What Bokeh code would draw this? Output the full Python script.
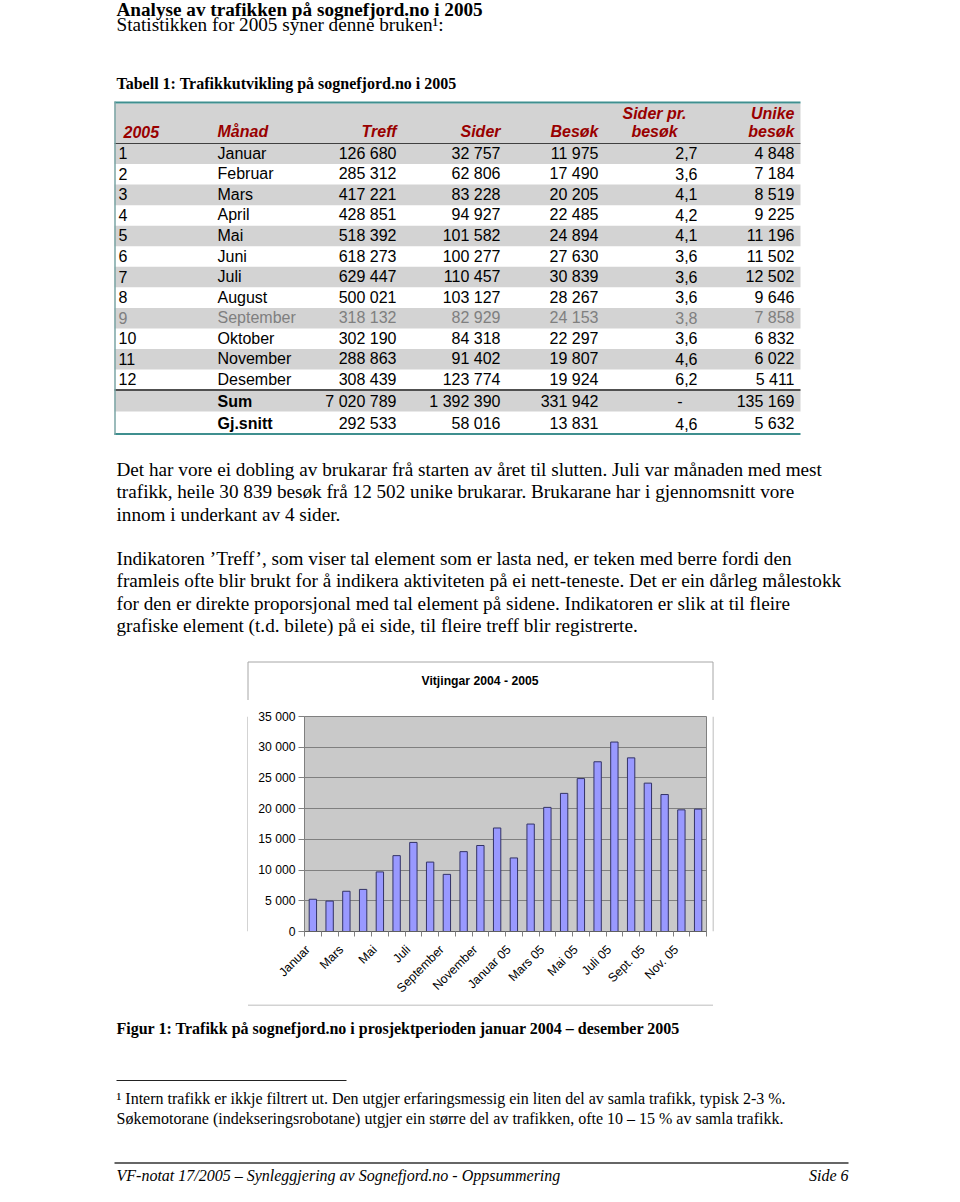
import math
from bokeh.plotting import figure
from bokeh.models import ColumnDataSource, Range1d, FixedTicker
from bokeh.layouts import column, row
from bokeh.core.properties import value
from bokeh.embed import file_html
from bokeh.resources import INLINE

# ---------------- data ----------------
title_text = "Analyse av trafikken på sognefjord.no i 2005"
intro_text = "Statistikken for 2005 syner denne bruken¹:"
table_caption = "Tabell 1: Trafikkutvikling på sognefjord.no i 2005"

header_year = "2005"
header_month = "Månad"
header_treff = "Treff"
header_sider = "Sider"
header_besok = "Besøk"
header_spb = ["Sider pr.", "besøk"]
header_unike = ["Unike", "besøk"]

months = ["Januar", "Februar", "Mars", "April", "Mai", "Juni", "Juli", "August",
          "September", "Oktober", "November", "Desember"]
treff = [126680, 285312, 417221, 428851, 518392, 618273, 629447, 500021, 318132, 302190, 288863, 308439]
sider = [32757, 62806, 83228, 94927, 101582, 100277, 110457, 103127, 82929, 84318, 91402, 123774]
besok = [11975, 17490, 20205, 22485, 24894, 27630, 30839, 28267, 24153, 22297, 19807, 19924]
sider_pr_besok = [2.7, 3.6, 4.1, 4.2, 4.1, 3.6, 3.6, 3.6, 3.8, 3.6, 4.6, 6.2]
unike = [4848, 7184, 8519, 9225, 11196, 11502, 12502, 9646, 7858, 6832, 6022, 5411]
sum_row = ["Sum", "7 020 789", "1 392 390", "331 942", "-", "135 169"]
avg_row = ["Gj.snitt", "292 533", "58 016", "13 831", "4,6", "5 632"]

para1 = [
    "Det har vore ei dobling av brukarar frå starten av året til slutten. Juli var månaden med mest",
    "trafikk, heile 30 839 besøk frå 12 502 unike brukarar. Brukarane har i gjennomsnitt vore",
    "innom i underkant av 4 sider.",
]
para2 = [
    "Indikatoren ’Treff’, som viser tal element som er lasta ned, er teken med berre fordi den",
    "framleis ofte blir brukt for å indikera aktiviteten på ei nett-teneste. Det er ein dårleg målestokk",
    "for den er direkte proporsjonal med tal element på sidene. Indikatoren er slik at til fleire",
    "grafiske element (t.d. bilete) på ei side, til fleire treff blir registrerte.",
]
fig_caption = "Figur 1: Trafikk på sognefjord.no i prosjektperioden januar 2004 – desember 2005"
footnote = [
    "¹ Intern trafikk er ikkje filtrert ut. Den utgjer erfaringsmessig ein liten del av samla trafikk, typisk 2-3 %.",
    "Søkemotorane (indekseringsrobotane) utgjer ein større del av trafikken, ofte 10 – 15 % av samla trafikk.",
]
footer_left = "VF-notat 17/2005 – Synleggjering av Sognefjord.no - Oppsummering"
footer_right = "Side 6"

chart_title = "Vitjingar 2004 - 2005"
chart_months = ["Januar", "Februar", "Mars", "April", "Mai", "Juni", "Juli", "August",
                "September", "Oktober", "November", "Desember",
                "Januar 05", "Februar 05", "Mars 05", "April 05", "Mai 05", "Juni 05",
                "Juli 05", "August 05", "Sept. 05", "Okt. 05", "Nov. 05", "Des. 05"]
visits_2004 = [5250, 4950, 6550, 6850, 9700, 12350, 14500, 11300, 9300, 13000, 14000, 16850]
visits_2005 = besok
y_ticks = [0, 5000, 10000, 15000, 20000, 25000, 30000, 35000]
y_tick_labels = ["0", "5 000", "10 000", "15 000", "20 000", "25 000", "30 000", "35 000"]

# ---------------- helpers ----------------
SERIF = "Liberation Serif"
SANS = "Liberation Sans"
BOX = "#a6a6a6"
TEAL = "#3f8f8f"
GRAY_ROW = "#d3d3d3"
HDR_RED = "#990000"


def fmt(n):
    return f"{n:,}".replace(",", " ")


def fmtd(x):
    return f"{x:.1f}".replace(".", ",")


def page_fig(width, height, x0, y0):
    p = figure(width=width, height=height,
               x_range=Range1d(x0, x0 + width), y_range=Range1d(y0 + height, y0),
               x_axis_location=None, y_axis_location=None,
               toolbar_location=None, output_backend="svg", min_border=0,
               outline_line_color=None, background_fill_color="white",
               border_fill_color="white")
    p.grid.visible = False
    return p


def txt(p, xs, ys, texts, font, size, style="normal", align="left", color="black"):
    src = ColumnDataSource(dict(x=xs, y=ys, t=texts))
    p.text(x="x", y="y", text="t", source=src, text_font=value(font),
           text_font_size=value(size), text_font_style=style, text_align=align,
           text_baseline="alphabetic", text_color=color)


def hline(p, y, x0, x1, color, w):
    p.segment(x0=[x0], y0=[y], x1=[x1], y1=[y], line_color=color, line_width=w)


def vline(p, x, y0, y1, color, w):
    p.segment(x0=[x], y0=[y0], x1=[x], y1=[y1], line_color=color, line_width=w)


# ---------------- top part (page y 0..700) ----------------
top = page_fig(944, 700, 0, 0)

txt(top, [116], [8.8], [title_text], SERIF, "19.2px", "bold")
txt(top, [116], [23.8], [intro_text], SERIF, "19.2px")
txt(top, [116], [82.8], [table_caption], SERIF, "16px", "bold")

# table geometry
TL, TR = 114, 800
ROW0, RH = 143.0, 20.55
SUM_T, SUM_B, AVG_B = 390.0, 411.0, 433.0
row_tops = [ROW0 + i * RH for i in range(len(months))]

gray_l, gray_r, gray_t, gray_b = [TL], [TR], [103], [ROW0]
for i, t in enumerate(row_tops):
    if i % 2 == 0:
        gray_l.append(TL); gray_r.append(TR); gray_t.append(t); gray_b.append(t + RH)
gray_l.append(TL); gray_r.append(TR); gray_t.append(SUM_T); gray_b.append(SUM_B)
top.quad(left=gray_l, right=gray_r, top=gray_t, bottom=gray_b, fill_color=GRAY_ROW, line_color=None)

hline(top, 102, TL, TR, TEAL, 2.2)
hline(top, ROW0, TL, TR, "#404040", 1)
hline(top, 389.6, TL, TR, "#505050", 2)
hline(top, 433.5, TL, TR, TEAL, 2.2)
vline(top, 114.5, 101, 434.5, "#7aa5a5", 1.5)

# header
H1, H2 = 113.0, 131.0
txt(top, [123, 217], [H2, H2], [header_year, header_month], SANS, "16px", "bold italic", "left", HDR_RED)
txt(top, [396, 500, 598, 794, 794], [H2, H2, H2, H1, H2],
    [header_treff, header_sider, header_besok, header_unike[0], header_unike[1]],
    SANS, "16px", "bold italic", "right", HDR_RED)
txt(top, [654, 654], [H1, H2], header_spb, SANS, "16px", "bold italic", "center", HDR_RED)

# body rows
col_right = [396, 500, 598, 697, 794]
for color_group, idxs in (("black", [i for i in range(12) if i != 8]), ("#7f7f7f", [8])):
    bys = [row_tops[i] + RH / 2 - 0.5 for i in idxs]
    txt(top, [118] * len(idxs), bys, [str(i + 1) for i in idxs], SANS, "16px", "normal", "left", color_group)
    txt(top, [217] * len(idxs), bys, [months[i] for i in idxs], SANS, "16px", "normal", "left", color_group)
    cols = [[fmt(treff[i]) for i in idxs], [fmt(sider[i]) for i in idxs], [fmt(besok[i]) for i in idxs],
            [fmtd(sider_pr_besok[i]) for i in idxs], [fmt(unike[i]) for i in idxs]]
    for xr, vals in zip(col_right, cols):
        txt(top, [xr] * len(idxs), bys, vals, SANS, "16px", "normal", "right", color_group)

sum_y, avg_y = 400.7, 423.0
txt(top, [217, 217], [sum_y, avg_y], [sum_row[0], avg_row[0]], SANS, "16px", "bold")
for k, xr in enumerate(col_right):
    if sum_row[k + 1] == "-":
        txt(top, [xr - 15], [sum_y], [sum_row[k + 1]], SANS, "16px", "normal", "right")
        txt(top, [xr], [avg_y], [avg_row[k + 1]], SANS, "16px", "normal", "right")
    else:
        txt(top, [xr, xr], [sum_y, avg_y], [sum_row[k + 1], avg_row[k + 1]], SANS, "16px", "normal", "right")

# paragraphs
LP = 22.3
p1_y = [469.0 + i * LP for i in range(len(para1))]
p2_y = [558.0 + i * LP for i in range(len(para2))]
txt(top, [116] * len(para1), p1_y, para1, SERIF, "19.2px")
txt(top, [116] * len(para2), p2_y, para2, SERIF, "19.2px")

# upper part of chart box + chart title
hline(top, 661.5, 247.5, 712.5, BOX, 1)
vline(top, 247.5, 661.5, 700, BOX, 1)
vline(top, 712.5, 661.5, 700, BOX, 1)
txt(top, [479.5], [680.0], [chart_title], SANS, "12.2px", "bold", "center")

# ---------------- chart row (page y 700..1004) ----------------
left_strip = page_fig(248, 304, 0, 700)
vline(left_strip, 247.5, 700, 1004, BOX, 1)
right_strip = page_fig(232, 304, 712, 700)
vline(right_strip, 712.5, 700, 1004, BOX, 1)

xs = list(range(1, len(chart_months) + 1))
csrc = ColumnDataSource(dict(x=xs, v=visits_2004 + visits_2005, m=chart_months))

cp = figure(width=464, height=304, x_range=Range1d(0.5, 24.5), y_range=Range1d(0, 35000),
            toolbar_location=None, output_backend="svg",
            min_border_left=56, min_border_right=6, min_border_top=16, min_border_bottom=73,
            background_fill_color="#c9c9c9", border_fill_color="white",
            outline_line_color="#808080")
cp.vbar(x="x", top="v", width=0.44, source=csrc, fill_color="#9999ff",
        line_color="#333366", line_width=1)

cp.xgrid.visible = False
cp.ygrid.grid_line_color = "#7f7f7f"
cp.ygrid.grid_line_width = 1

cp.yaxis.ticker = FixedTicker(ticks=y_ticks)
cp.yaxis.major_label_overrides = {t: l for t, l in zip(y_ticks, y_tick_labels)}
cp.yaxis.major_tick_out = 6
cp.yaxis.major_tick_in = 0
cp.yaxis.minor_tick_line_color = None
cp.yaxis.axis_line_color = "#808080"
cp.yaxis.major_tick_line_color = "#808080"
cp.yaxis.major_label_standoff = 3
cp.yaxis.major_label_text_font = SANS
cp.yaxis.major_label_text_font_size = "12.2px"
cp.yaxis.major_label_text_color = "black"

# every second month is labelled; the label anchor sits a little left of the bar,
# as in the spreadsheet chart (text end aligned at the category centre)
LABEL_SHIFT = 0.3
label_idx = list(range(0, len(chart_months), 2))
label_pos = [xs[i] - LABEL_SHIFT for i in label_idx]
cp.xaxis.ticker = FixedTicker(ticks=label_pos, minor_ticks=[x - 0.5 for x in xs] + [xs[-1] + 0.5])
cp.xaxis.major_label_overrides = {pos: chart_months[i] for pos, i in zip(label_pos, label_idx)}
cp.xaxis.major_tick_line_color = None
cp.xaxis.major_tick_out = 5
cp.xaxis.major_tick_in = 0
cp.xaxis.minor_tick_out = 5
cp.xaxis.minor_tick_in = 0
cp.xaxis.minor_tick_line_color = "#808080"
cp.xaxis.axis_line_color = "#606060"
cp.xaxis.major_label_orientation = math.pi / 4
cp.xaxis.major_label_standoff = 11
cp.xaxis.major_label_text_font = SANS
cp.xaxis.major_label_text_font_size = "12.4px"
cp.xaxis.major_label_text_color = "black"

# ---------------- bottom part (page y 1004..1194) ----------------
bot = page_fig(944, 190, 0, 1004)
hline(bot, 1004.5, 247.5, 712.5, BOX, 1)
txt(bot, [116], [1027.5], [fig_caption], SERIF, "16px", "bold")
hline(bot, 1080, 116, 346, "#222222", 1)
txt(bot, [116, 116], [1098.0, 1117.5], footnote, SERIF, "16px")
hline(bot, 1162.5, 114, 848, "#333333", 1.5)
txt(bot, [116], [1174.5], [footer_left], SERIF, "16px", "italic")
txt(bot, [848], [1174.5], [footer_right], SERIF, "16px", "italic", "right")

layout = column(top, row(left_strip, cp, right_strip), bot)

open("out.html", "w").write(file_html(layout, INLINE, title="Analyse av trafikken på sognefjord.no i 2005"))
